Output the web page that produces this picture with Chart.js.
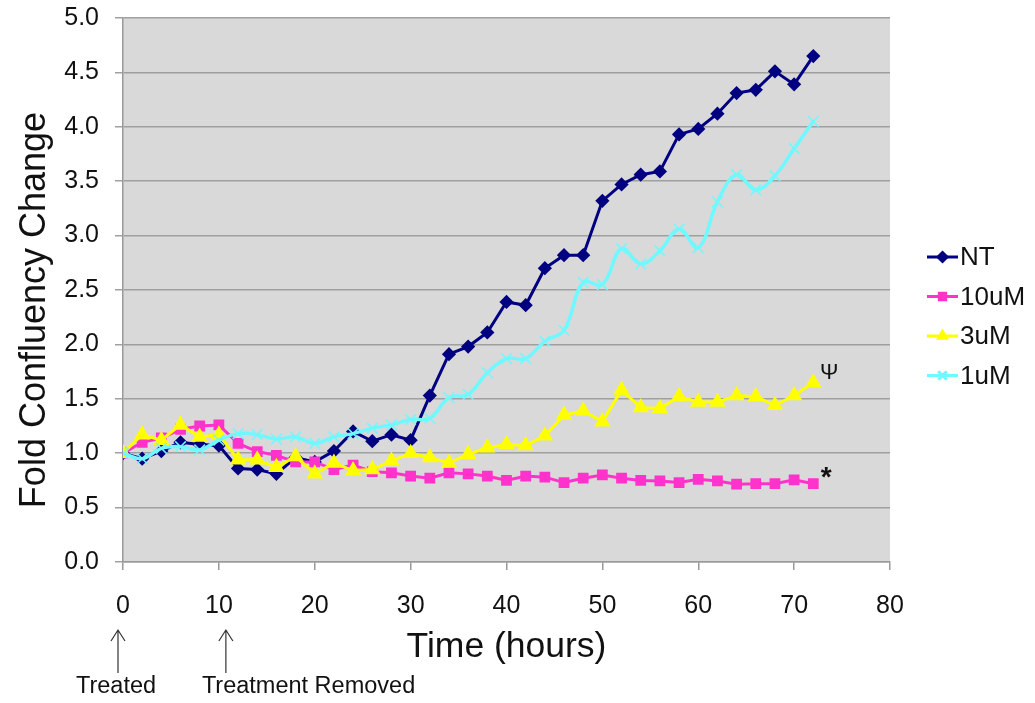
<!DOCTYPE html>
<html>
<head>
<meta charset="utf-8">
<script src="https://cdn.jsdelivr.net/npm/chart.js@4.4.1/dist/chart.umd.min.js"></script>
<style>
  body { margin: 0; background: #fff; }
</style>
</head>
<body>
<canvas id="line-chart" width="1035" height="703"></canvas>
<script>
var hours = [0, 2, 4, 6, 8, 10, 12, 14, 16, 18, 20, 22, 24, 26, 28, 30, 32, 34, 36,
  38, 40, 42, 44, 46, 48, 50, 52, 54, 56, 58, 60, 62, 64, 66, 68, 70, 72];

var ntValues = [1.0, 0.95, 1.02, 1.10, 1.08, 1.07, 0.86, 0.85, 0.81, 0.96, 0.92, 1.02, 1.20,
  1.11, 1.17, 1.12, 1.53, 1.91, 1.98, 2.11, 2.39, 2.36, 2.70, 2.82, 2.82, 3.32, 3.47,
  3.56, 3.59, 3.93, 3.98, 4.12, 4.31, 4.34, 4.51, 4.39, 4.65];
var uM10Values = [1.0, 1.10, 1.14, 1.22, 1.25, 1.26, 1.09, 1.015, 0.98, 0.92, 0.92, 0.85, 0.89,
  0.83, 0.82, 0.79, 0.77, 0.82, 0.81, 0.79, 0.75, 0.79, 0.78, 0.73, 0.77, 0.80, 0.77,
  0.75, 0.745, 0.73, 0.76, 0.745, 0.715, 0.72, 0.72, 0.755, 0.72];
var uM3Values = [1.0, 1.17, 1.12, 1.26, 1.15, 1.17, 0.94, 0.94, 0.87, 0.97, 0.81, 0.91, 0.84,
  0.85, 0.93, 1.0, 0.96, 0.91, 0.99, 1.05, 1.08, 1.07, 1.16, 1.35, 1.39, 1.29, 1.58,
  1.42, 1.41, 1.52, 1.47, 1.47, 1.53, 1.52, 1.44, 1.53, 1.65];
var uM1Values = [1.0, 0.95, 1.045, 1.06, 1.03, 1.12, 1.18, 1.17, 1.13, 1.15, 1.09, 1.15, 1.18,
  1.23, 1.26, 1.31, 1.32, 1.51, 1.54, 1.74, 1.87, 1.87, 2.03, 2.13, 2.57, 2.55, 2.88,
  2.74, 2.86, 3.06, 2.89, 3.31, 3.56, 3.42, 3.55, 3.80, 4.05];

var seriesLabels = ["NT", "10uM", "3uM", "1uM"];
var xTicks = [0, 10, 20, 30, 40, 50, 60, 70, 80];
var yTicks = [0, 0.5, 1, 1.5, 2, 2.5, 3, 3.5, 4, 4.5, 5];

var FONT = "'Liberation Sans', Arial, sans-serif";

function toPoints(values) {
  return values.map(function (v, i) { return { x: hours[i], y: v }; });
}

var datasets = [{
  label: seriesLabels[0],
  data: toPoints(ntValues),
  borderColor: "#000080",
  backgroundColor: "#000080",
  pointStyle: "rectRot",
  pointRadius: 5,
  borderWidth: 3,
  order: 4
}, {
  label: seriesLabels[1],
  data: toPoints(uM10Values),
  borderColor: "#ff33cc",
  backgroundColor: "#ff33cc",
  pointStyle: "rect",
  pointRadius: 5.5,
  borderWidth: 3,
  order: 3
}, {
  label: seriesLabels[2],
  data: toPoints(uM3Values),
  borderColor: "#ffff00",
  backgroundColor: "#ffff00",
  pointStyle: "triangle",
  pointRadius: 6.5,
  borderWidth: 3,
  order: 2
}, {
  label: seriesLabels[3],
  data: toPoints(uM1Values),
  borderColor: "#70f8ff",
  backgroundColor: "#70f8ff",
  pointStyle: "crossRot",
  pointRadius: 7.5,
  pointBorderWidth: 1.5,
  borderWidth: 3.5,
  tension: 0.4,
  order: 1
}];

// grey plot background
var plotBackground = {
  id: "plotBackground",
  beforeDraw: function (chart) {
    var a = chart.chartArea;
    var ctx = chart.ctx;
    ctx.save();
    ctx.fillStyle = "#d9d9d9";
    ctx.fillRect(a.left, a.top, a.right - a.left, a.bottom - a.top);
    ctx.restore();
  }
};

// excel style legend (line + marker) on the right
var sideLegend = {
  id: "sideLegend",
  afterDraw: function (chart) {
    var ctx = chart.ctx;
    ctx.save();
    chart.data.datasets.forEach(function (ds, i) {
      var y = 257 + i * 39.5;
      ctx.strokeStyle = ds.borderColor;
      ctx.lineWidth = 3;
      ctx.beginPath();
      ctx.moveTo(927, y);
      ctx.lineTo(958, y);
      ctx.stroke();
      Chart.helpers.drawPoint(ctx, {
        pointStyle: ds.pointStyle,
        radius: ds.pointStyle === "crossRot" ? 6 : 4.5,
        rotation: 0,
        borderWidth: 2
      }, 942.5, y);
      ctx.fillStyle = ds.borderColor;
      ctx.strokeStyle = ds.borderColor;
      ctx.fill();
      ctx.fillStyle = "#111";
      ctx.font = "26px " + FONT;
      ctx.textAlign = "left";
      ctx.textBaseline = "middle";
      ctx.fillText(ds.label, 960, y + 1);
    });
    ctx.restore();
  }
};

// symbols and arrows drawn next to the data
var notes = {
  id: "notes",
  afterDraw: function (chart) {
    var ctx = chart.ctx;
    var xs = chart.scales.x;
    var ys = chart.scales.y;
    var last = hours.length - 1;
    ctx.save();
    ctx.fillStyle = "#111";
    ctx.textAlign = "center";
    ctx.textBaseline = "middle";
    ctx.font = "22px " + FONT;
    ctx.fillText("\u03A8", xs.getPixelForValue(hours[last]) + 16, ys.getPixelForValue(uM3Values[last]) - 10);
    ctx.font = "bold 28px " + FONT;
    ctx.fillText("*", xs.getPixelForValue(hours[last]) + 13, ys.getPixelForValue(uM10Values[last]) - 5);

    ctx.strokeStyle = "#333";
    ctx.lineWidth = 1.2;
    [xs.getPixelForValue(0) - 5, xs.getPixelForValue(10) + 7].forEach(function (ax) {
      ctx.beginPath();
      ctx.moveTo(ax, 673);
      ctx.lineTo(ax, 630);
      ctx.moveTo(ax - 7, 641);
      ctx.lineTo(ax, 630);
      ctx.lineTo(ax + 7, 641);
      ctx.stroke();
    });
    ctx.font = "23.5px " + FONT;
    ctx.textAlign = "center";
    ctx.fillText("Treated", xs.getPixelForValue(0) - 7, 687);
    ctx.textAlign = "left";
    ctx.fillText("Treatment Removed", xs.getPixelForValue(10) - 17, 687);
    ctx.restore();
  }
};

var ctx = document.getElementById("line-chart").getContext("2d");
var myChart = new Chart(ctx, {
  type: "line",
  data: { datasets: datasets },
  plugins: [plotBackground, sideLegend, notes],
  options: {
    responsive: false,
    animation: false,
    layout: { padding: { left: 0, right: 145, top: 18, bottom: 0 } },
    plugins: {
      legend: { display: false },
      tooltip: { enabled: false }
    },
    scales: {
      x: {
        type: "linear",
        min: 0,
        max: 80,
        afterBuildTicks: function (axis) {
          axis.ticks = xTicks.map(function (v) { return { value: v }; });
        },
        afterFit: function (axis) { axis.height = 141; },
        grid: { drawOnChartArea: false, color: "#9a9a9a", lineWidth: 1.5, tickLength: 8 },
        border: { color: "#9a9a9a", width: 1.5 },
        ticks: { color: "#111", padding: 21, maxRotation: 0, font: { size: 25, family: FONT } },
        title: {
          display: true,
          text: "Time (hours)",
          color: "#111",
          padding: { top: 0, bottom: 34 },
          font: { size: 35.5, family: FONT }
        }
      },
      y: {
        min: 0,
        max: 5,
        afterBuildTicks: function (axis) {
          axis.ticks = yTicks.map(function (v) { return { value: v }; });
        },
        afterFit: function (axis) {
          axis.width = 123;
          axis.paddingTop = 0;
          axis.paddingBottom = 0;
        },
        grid: { color: "#a0a0a0", lineWidth: 1.5, tickLength: 8 },
        border: { color: "#9a9a9a", width: 1.5 },
        ticks: {
          color: "#111",
          padding: 16,
          font: { size: 25, family: FONT },
          callback: function (v) { return v.toFixed(1); }
        },
        title: {
          display: true,
          // trailing spaces push the title a little below the axis centre, as in the original
          text: "Fold Confluency Change\u00a0\u00a0\u00a0\u00a0",
          color: "#111",
          padding: { top: 13, bottom: 0 },
          font: { size: 36, family: FONT }
        }
      }
    }
  }
});
</script>
</body>
</html>
